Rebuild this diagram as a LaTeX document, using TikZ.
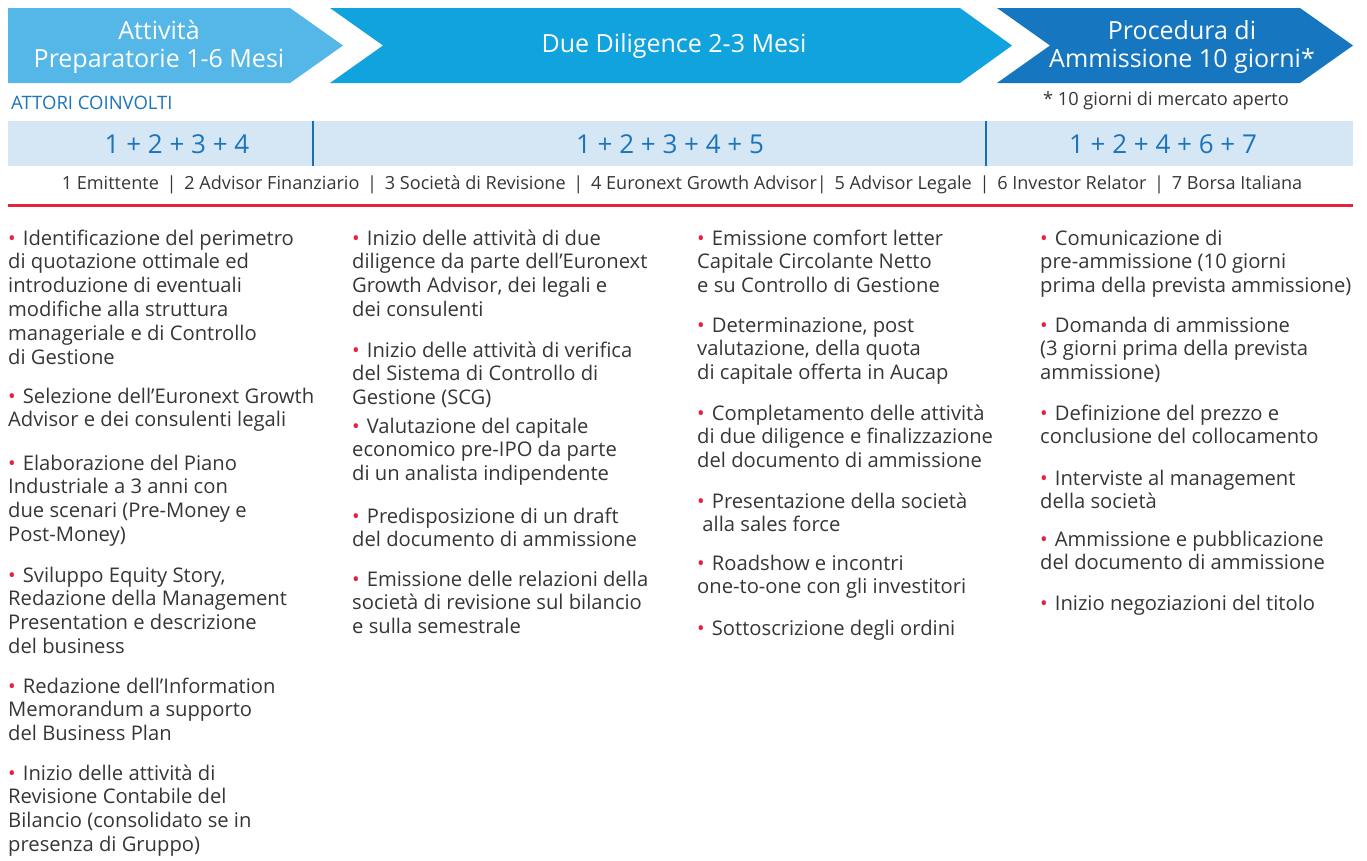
\documentclass[tikz,border=0pt]{standalone}
\usepackage{fontspec}
\setmainfont{Open Sans}
\definecolor{arrA}{HTML}{55B6E8}
\definecolor{arrB}{HTML}{10A3DD}
\definecolor{arrC}{HTML}{1677C0}
\definecolor{barbg}{HTML}{D5E7F5}
\definecolor{numblue}{HTML}{1B74BE}
\definecolor{divblue}{HTML}{1B6DB4}
\definecolor{txtgray}{HTML}{363636}
\definecolor{bulred}{HTML}{E4233F}
\newcommand\bul{{\color{bulred}\textbullet}\hspace{0.35em}}
\newcommand\itm[1]{\begin{tabular}[t]{@{}l@{}}#1\end{tabular}}
\begin{document}
\begin{tikzpicture}[x=1pt,y=-1pt,
  head/.style={text=white,font=\fontsize{25}{28}\selectfont,align=center,inner sep=0},
  nums/.style={text=numblue,font=\fontsize{26}{28}\selectfont,inner sep=0},
  item/.style={anchor=base west,inner sep=0,text=txtgray,font=\fontsize{20.2}{23.8}\selectfont}]
\useasboundingbox (0,0) rectangle (1367,860);
% header arrows
\fill[arrA] (8,8) -- (290,8) -- (343,45.5) -- (290,83) -- (8,83) -- cycle;
\fill[arrB] (330,8) -- (960,8) -- (1012,45.5) -- (960,83) -- (330,83) -- (383,45.5) -- cycle;
\fill[arrC] (997,8) -- (1300,8) -- (1353,45.5) -- (1300,83) -- (997,83) -- (1050,45.5) -- cycle;
\node[head] (h1) at (159,47) {Attività\\Preparatorie 1-6 Mesi};
\node[head] (h2) at (674,46) {Due Diligence 2-3 Mesi};
\node[head] (h3) at (1182,47) {Procedura di\\Ammissione 10 giorni*};
% actors
\node[anchor=west,inner sep=0,text=numblue,font=\fontsize{18.5}{20}\selectfont] (att) at (11,103) {ATTORI COINVOLTI};
\node[inner sep=0,text=txtgray,font=\fontsize{18.2}{20}\selectfont] (note) at (1166,101) {* 10 giorni di mercato aperto};
\fill[barbg] (8,121) rectangle (1353,166);
\draw[divblue,line width=2pt] (313,121) -- (313,166);
\draw[divblue,line width=2pt] (986,121) -- (986,166);
\node[nums] (n1) at (177,144) {1 + 2 + 3 + 4};
\node[nums] (n2) at (670,144) {1 + 2 + 3 + 4 + 5};
\node[nums] (n3) at (1163,144) {1 + 2 + 4 + 6 + 7};
\node[inner sep=0,text=txtgray,font=\fontsize{18.1}{20}\selectfont] (leg) at (682,185)
  {1 Emittente \,|\, 2 Advisor Finanziario \,|\, 3 Società di Revisione \,|\, 4 Euronext Growth Advisor|\, 5 Advisor Legale \,|\, 6 Investor Relator \,|\, 7 Borsa Italiana};
\draw[bulred,line width=3pt] (8,205) -- (1353,205);
% column 1
\node[item] (a1) at (8,245) {\itm{\bul Identificazione del perimetro\\di quotazione ottimale ed\\introduzione di eventuali\\modifiche alla struttura\\manageriale e di Controllo\\di Gestione}};
\node[item] (a2) at (8,403) {\itm{\bul Selezione dell'Euronext Growth\\Advisor e dei consulenti legali}};
\node[item] (a3) at (8,470) {\itm{\bul Elaborazione del Piano\\Industriale a 3 anni con\\due scenari (Pre-Money e\\Post-Money)}};
\node[item] (a4) at (8,582) {\itm{\bul Sviluppo Equity Story,\\Redazione della Management\\Presentation e descrizione\\del business}};
\node[item] (a5) at (8,693) {\itm{\bul Redazione dell'Information\\Memorandum a supporto\\del Business Plan}};
\node[item] (a6) at (8,780) {\itm{\bul Inizio delle attività di\\Revisione Contabile del\\Bilancio (consolidato se in\\presenza di Gruppo)}};
% column 2
\node[item] (b1) at (352,245) {\itm{\bul Inizio delle attività di due\\diligence da parte dell'Euronext\\Growth Advisor, dei legali e\\dei consulenti}};
\node[item] (b2) at (352,357) {\itm{\bul Inizio delle attività di verifica\\del Sistema di Controllo di\\Gestione (SCG)}};
\node[item] (b3) at (352,433) {\itm{\bul Valutazione del capitale\\economico pre-IPO da parte\\di un analista indipendente}};
\node[item] (b4) at (352,523) {\itm{\bul Predisposizione di un draft\\del documento di ammissione}};
\node[item] (b5) at (352,586) {\itm{\bul Emissione delle relazioni della\\società di revisione sul bilancio\\e sulla semestrale}};
% column 3
\node[item] (c1) at (697,245) {\itm{\bul Emissione comfort letter\\Capitale Circolante Netto\\e su Controllo di Gestione}};
\node[item] (c2) at (697,332) {\itm{\bul Determinazione, post\\valutazione, della quota\\di capitale offerta in Aucap}};
\node[item] (c3) at (697,420) {\itm{\bul Completamento delle attività\\di due diligence e finalizzazione\\del documento di ammissione}};
\node[item] (c4) at (697,508) {\itm{\bul Presentazione della società\\\ alla sales force}};
\node[item] (c5) at (697,570) {\itm{\bul Roadshow e incontri\\one-to-one con gli investitori}};
\node[item] (c6) at (697,635) {\itm{\bul Sottoscrizione degli ordini}};
% column 4
\node[item] (d1) at (1040,245) {\itm{\bul Comunicazione di\\pre-ammissione (10 giorni\\prima della prevista ammissione)}};
\node[item] (d2) at (1040,332) {\itm{\bul Domanda di ammissione\\(3 giorni prima della prevista\\ammissione)}};
\node[item] (d3) at (1040,420) {\itm{\bul Definizione del prezzo e\\conclusione del collocamento}};
\node[item] (d4) at (1040,485) {\itm{\bul Interviste al management\\della società}};
\node[item] (d5) at (1040,546) {\itm{\bul Ammissione e pubblicazione\\del documento di ammissione}};
\node[item] (d6) at (1040,610) {\itm{\bul Inizio negoziazioni del titolo}};
\end{tikzpicture}
\end{document}
